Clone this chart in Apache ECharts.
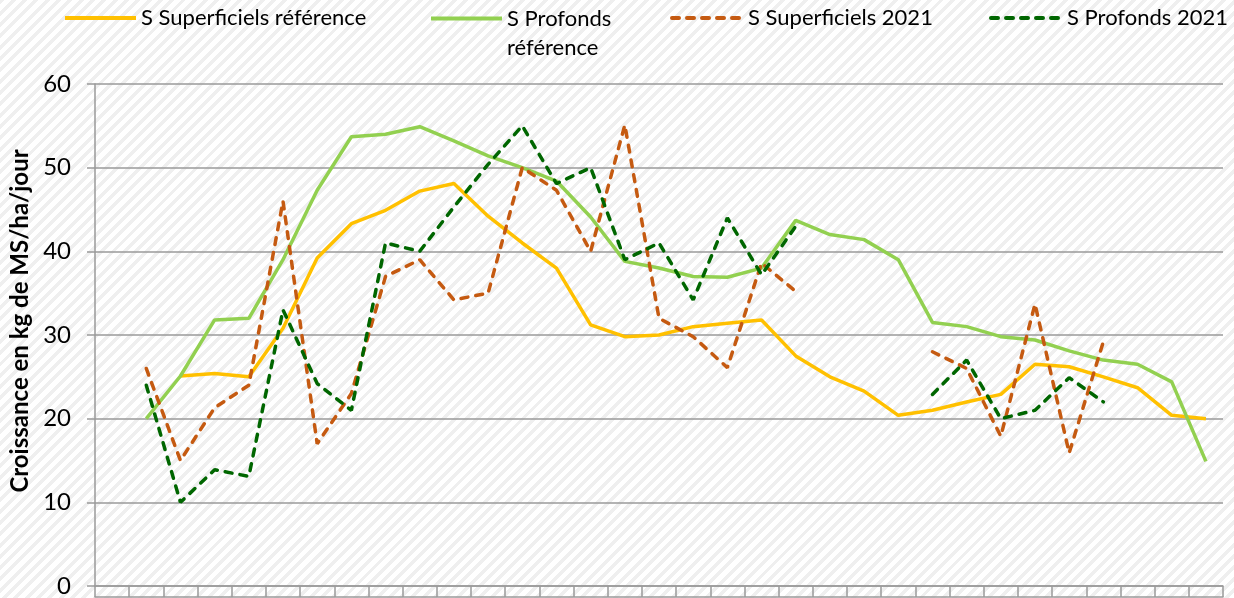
<!DOCTYPE html>
<html>
<head>
<meta charset="utf-8">
<script src="https://cdn.jsdelivr.net/npm/echarts@6/dist/echarts.min.js"></script>
<style>
  html, body { margin: 0; padding: 0; }
  #chart {
    width: 1234px;
    height: 598px;
    background: repeating-linear-gradient(135deg, #efefef 0px, #efefef 3.5px, #ffffff 3.5px, #ffffff 8px);
  }
</style>
</head>
<body>
<div id="chart"></div>
<script>
// weeks (labels are not shown on the picture)
const weeks = ['1','2','3','4','5','6','7','8','9','10','11','12','13','14','15','16','17',
  '18','19','20','21','22','23','24','25','26','27','28','29','30','31','32','33']

const supRef = [null, null, 25.1, 25.4, 25.0, 30.8, 39.2, 43.3, 44.9, 47.2, 48.1, 44.2, 41.0, 38.0,
  31.2, 29.8, 30.0, 31.0, 31.4, 31.8, 27.5, 25.0, 23.3, 20.4, 21.0, 22.0, 22.9, 26.5, 26.2, 25.0,
  23.7, 20.4, 20.0]

const profRef = [null, 20.0, 25.1, 31.8, 32.0, 39.0, 47.3, 53.7, 54.0, 54.9, 53.2, 51.4, 50.0, 48.4,
  44.1, 38.8, 38.0, 37.0, 36.9, 38.0, 43.7, 42.0, 41.4, 39.0, 31.5, 31.0, 29.8, 29.4, 28.1, 27.0,
  26.5, 24.4, 14.9]

const sup2021 = [null, 26.0, 15.0, 21.3, 24.0, 46.0, 17.0, 23.0, 37.0, 39.0, 34.2, 35.0, 50.0, 47.3,
  40.0, 55.1, 32.0, 29.8, 26.1, 38.6, 35.2, null, null, null, 28.0, 26.0, 17.9, 33.7, 15.9, 29.2,
  null, null, null]

const prof2021 = [null, 24.0, 10.0, 13.9, 13.1, 33.0, 24.2, 21.0, 41.0, 40.0, 45.3, 50.4, 55.0, 48.1,
  50.0, 39.0, 41.0, 34.2, 44.0, 37.2, 43.0, null, null, null, 22.9, 27.0, 20.0, 21.0, 24.9, 22.0,
  null, null, null]

const yTicks = { min: 0, max: 60, interval: 10 }

const FONT = 'Lato'
const AXIS_GRAY = '#9a9a9a'

const chart = echarts.init(document.getElementById('chart'))

function legendAt(name, left, extra) {
  return Object.assign({
    data: [name],
    left: left,
    top: 7,
    padding: 0,
    itemWidth: 71,
    itemHeight: 20,
    selectedMode: false,
    itemStyle: { opacity: 0 },
    lineStyle: { width: 4 },
    textStyle: { fontFamily: FONT, fontSize: 22, color: '#000' }
  }, extra || {})
}

const option = {
  backgroundColor: 'transparent',
  animation: false,
  legend: [
    legendAt('S Superficiels référence', 63),
    // the two-line label: an empty first line keeps the icon level with "S Profonds"
    legendAt('S Profonds référence', 429, {
      top: -25,
      formatter: () => '\nS Profonds\nréférence',
      textStyle: { fontFamily: FONT, fontSize: 22, color: '#000', lineHeight: 29 }
    }),
    legendAt('S Superficiels 2021', 670),
    legendAt('S Profonds 2021', 989)
  ],
  grid: { left: 95, right: 11, top: 84, bottom: 12, containLabel: false },
  xAxis: [
    {
      type: 'category',
      data: weeks,
      boundaryGap: true,
      axisLine: { show: true, lineStyle: { color: AXIS_GRAY, width: 1.5 } },
      axisTick: { show: true, interval: 0, length: 11, lineStyle: { color: AXIS_GRAY, width: 1.5 } },
      axisLabel: { show: false },
      splitLine: { show: false }
    },
    {
      type: 'category',
      data: weeks,
      position: 'bottom',
      offset: 11,
      axisLine: { show: true, lineStyle: { color: AXIS_GRAY, width: 1.5 } },
      axisTick: { show: false },
      axisLabel: { show: false }
    }
  ],
  yAxis: {
    type: 'value',
    min: yTicks.min,
    max: yTicks.max,
    interval: yTicks.interval,
    name: 'Croissance en kg de MS/ha/jour',
    nameLocation: 'middle',
    nameGap: 63,
    nameTextStyle: {
      fontFamily: FONT, fontSize: 24, fontWeight: 'bold', color: '#000',
      padding: [0, 0, 0, 28]
    },
    axisLine: { show: true, lineStyle: { color: AXIS_GRAY, width: 1.5 } },
    axisTick: { show: true, length: 8, lineStyle: { color: AXIS_GRAY, width: 1.5 } },
    axisLabel: { fontFamily: FONT, fontSize: 24, color: '#000', margin: 24 },
    splitLine: { show: true, lineStyle: { color: AXIS_GRAY, width: 1.5 } }
  },
  series: [
    {
      name: 'S Superficiels référence',
      type: 'line',
      data: supRef,
      symbol: 'none',
      lineStyle: { color: '#FFC000', width: 3.5 },
      itemStyle: { color: '#FFC000' }
    },
    {
      name: 'S Profonds référence',
      type: 'line',
      data: profRef,
      symbol: 'none',
      lineStyle: { color: '#92D050', width: 3.5 },
      itemStyle: { color: '#92D050' }
    },
    {
      name: 'S Superficiels 2021',
      type: 'line',
      data: sup2021,
      symbol: 'none',
      lineStyle: { color: '#C55A11', width: 3.5, type: [7, 8], cap: 'round' },
      itemStyle: { color: '#C55A11' }
    },
    {
      name: 'S Profonds 2021',
      type: 'line',
      data: prof2021,
      symbol: 'none',
      lineStyle: { color: '#006600', width: 3.5, type: [7, 8], cap: 'round' },
      itemStyle: { color: '#006600' }
    }
  ]
}

chart.setOption(option)
</script>
</body>
</html>
